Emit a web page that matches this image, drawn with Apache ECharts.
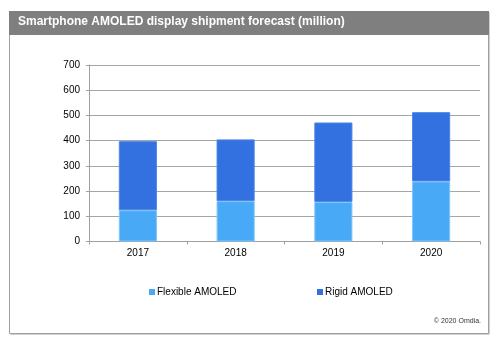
<!DOCTYPE html>
<html>
<head>
<meta charset="utf-8">
<script src="https://cdn.jsdelivr.net/npm/echarts@6/dist/echarts.min.js"></script>
<style>html,body{margin:0;padding:0;background:#fff}#c{width:500px;height:342px}</style>
</head>
<body>
<div id="c"></div>
<script>
var categories = ['2017', '2018', '2019', '2020'];
var flexible = [124, 160, 157, 238];
var rigid = [274, 245, 315, 275];
var seriesNames = ['Flexible AMOLED', 'Rigid AMOLED'];
var yTicks = [0, 100, 200, 300, 400, 500, 600, 700];
var titleText = 'Smartphone AMOLED display shipment forecast (million)';
var sourceText = '\u00a9 2020 Omdia.';

var chart = echarts.init(document.getElementById('c'), null, {renderer: 'canvas'});
var font = 'Liberation Sans, Arial, sans-serif';
chart.setOption({
  animation: false,
  textStyle: {fontFamily: font},
  title: {
    text: titleText, left: 13, top: 11,
    textStyle: {color: '#ffffff', fontSize: 12, fontWeight: 'bold', fontFamily: font}
  },
  graphic: [
    {type: 'rect', z: -10, shape: {x: 10.5, y: 12.5, width: 479, height: 322}, style: {fill: 'none', stroke: '#d0d0d0', lineWidth: 1}},
    {type: 'rect', z: -9, shape: {x: 9.5, y: 11.5, width: 479, height: 322}, style: {fill: '#ffffff', stroke: '#a0a0a0', lineWidth: 1}},
    {type: 'rect', z: -8, shape: {x: 9, y: 11, width: 480, height: 24}, style: {fill: '#7f7f7f'}},
    {type: 'text', right: 19, top: 318, style: {text: sourceText, fontSize: 7, fill: '#333', fontFamily: font}}
  ],
  grid: {left: 89, right: 20, top: 65, bottom: 100.5},
  legend: [
    {data: [seriesNames[0]], left: 149, top: 287, padding: 0, itemWidth: 6, itemHeight: 6, itemGap: 0, icon: 'rect',
     itemStyle: {borderWidth: 0},
     textStyle: {fontSize: 10, color: '#000', padding: [0, 0, 0, -3]}},
    {data: [seriesNames[1]], left: 317, top: 287, padding: 0, itemWidth: 6, itemHeight: 6, itemGap: 0, icon: 'rect',
     itemStyle: {borderWidth: 0},
     textStyle: {fontSize: 10, color: '#000', padding: [0, 0, 0, -3]}}
  ],
  xAxis: {
    type: 'category', data: categories,
    axisLine: {lineStyle: {color: '#a0a0a0', width: 1}},
    axisTick: {show: true, length: 3, lineStyle: {color: '#a0a0a0'}},
    axisLabel: {color: '#000', fontSize: 10, margin: 7}
  },
  yAxis: {
    type: 'value', min: 0, max: 700, interval: 100,
    axisLine: {show: true, lineStyle: {color: '#a0a0a0', width: 1}},
    axisTick: {show: true, length: 3, lineStyle: {color: '#a0a0a0'}},
    axisLabel: {color: '#000', fontSize: 10, margin: 9,
      formatter: function (v) { return yTicks.indexOf(v) >= 0 ? String(v) : ''; }},
    splitLine: {lineStyle: {color: '#a6a6a6', width: 1.2}}
  },
  series: [
    {name: seriesNames[0], type: 'bar', stack: 'a', data: flexible, barWidth: '39%',
     itemStyle: {color: '#48a9f6', borderColor: '#7fc6fb', borderWidth: 1}},
    {name: seriesNames[1], type: 'bar', stack: 'a', data: rigid, barWidth: '39%',
     itemStyle: {color: '#3371e0', borderColor: '#4a86ea', borderWidth: 1}}
  ]
});
</script>
</body>
</html>
